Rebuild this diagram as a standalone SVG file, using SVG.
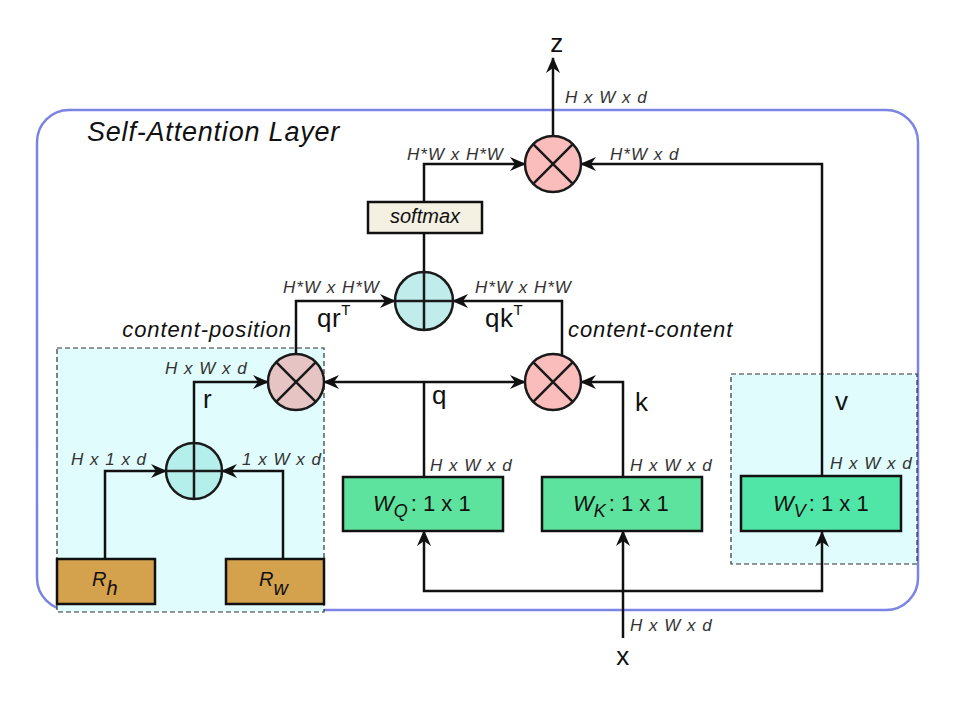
<svg xmlns="http://www.w3.org/2000/svg" width="962" height="707" viewBox="0 0 962 707">
<style>
.ln{fill:none;stroke:#111;stroke-width:2.5}
.lbl{font-family:"Liberation Sans",Arial,sans-serif;font-style:italic;font-size:17px;fill:#333;letter-spacing:1px}
.big{font-family:"Liberation Sans",Arial,sans-serif;font-size:26px;fill:#111;letter-spacing:0.5px}
.it{font-family:"Liberation Sans",Arial,sans-serif;font-style:italic;fill:#111}
.circ{stroke:#1a1a1a;stroke-width:2.5}
.sym{stroke:#1a1a1a;stroke-width:2.5}
.box{stroke:#111;stroke-width:2.5}
.dash{fill:#e0fcfc;stroke:#333;stroke-width:1.2;stroke-dasharray:5,3}
.wt{font-family:"Liberation Sans",Arial,sans-serif;font-size:22px;fill:#111}
</style>
<defs>
<marker id="ah" viewBox="0 0 16 14" refX="15" refY="7" markerWidth="16" markerHeight="14" markerUnits="userSpaceOnUse" orient="auto"><path d="M16,7 L0,0 L5,7 L0,14 z" fill="#111"/></marker>
</defs>
<rect width="962" height="707" fill="#fff"/>
<g id="layer">
<rect x="37" y="110" width="881" height="500" rx="32" fill="none" stroke="#7b83e4" stroke-width="2.5"/>
<text x="87" y="141" class="it" font-size="27" letter-spacing="0.8">Self-Attention Layer</text>
</g>
<g id="pos-region"><rect class="dash" x="57" y="348" width="267" height="264"/></g>
<g id="v-region"><rect class="dash" x="731" y="374" width="186" height="190"/></g>

<g id="connectors">
<path class="ln" d="M553,136 V58" marker-end="url(#ah)"/>
<path class="ln" d="M424,202 V164 H525" marker-end="url(#ah)"/>
<path class="ln" d="M822,476 V164 H581" marker-end="url(#ah)"/>
<path class="ln" d="M424,232 V272"/>
<path class="ln" d="M296,354 V301 H395" marker-end="url(#ah)"/>
<path class="ln" d="M562,357 V301 H453" marker-end="url(#ah)"/>
<path class="ln" d="M424,477 V382"/>
<path class="ln" d="M424,382 H324" marker-end="url(#ah)"/>
<path class="ln" d="M424,382 H525" marker-end="url(#ah)"/>
<path class="ln" d="M623,477 V382 H581" marker-end="url(#ah)"/>
<path class="ln" d="M194,443 V382 H268" marker-end="url(#ah)"/>
<path class="ln" d="M105,559 V471 H166" marker-end="url(#ah)"/>
<path class="ln" d="M283,559 V471 H222" marker-end="url(#ah)"/>
<path class="ln" d="M623,638 V531" marker-end="url(#ah)"/>
<path class="ln" d="M623,591 H424 V531" marker-end="url(#ah)"/>
<path class="ln" d="M623,591 H822 V532" marker-end="url(#ah)"/>
</g>

<g id="labels">
<text class="lbl" x="565" y="103">H x W x d</text>
<text class="lbl" x="407" y="160">H*W x H*W</text>
<text class="lbl" x="610" y="160">H*W x d</text>
<text class="lbl" x="283" y="293">H*W x H*W</text>
<text class="lbl" x="475" y="293">H*W x H*W</text>
<text class="lbl" x="165" y="374">H x W x d</text>
<text class="lbl" x="71" y="465">H x 1 x d</text>
<text class="lbl" x="242" y="465">1 x W x d</text>
<text class="lbl" x="430" y="471">H x W x d</text>
<text class="lbl" x="630" y="471">H x W x d</text>
<text class="lbl" x="830" y="469">H x W x d</text>
<text class="lbl" x="630" y="631">H x W x d</text>
<text class="big" x="557" y="52" text-anchor="middle">z</text>
<text class="big" x="623" y="665" text-anchor="middle">x</text>
<text class="big" x="432" y="404">q</text>
<text class="big" x="635" y="411">k</text>
<text class="big" x="835" y="410">v</text>
<text class="big" x="203" y="408">r</text>
<text class="big" x="317" y="327">qr<tspan font-size="15" dy="-12">T</tspan></text>
<text class="big" x="485" y="327">qk<tspan font-size="15" dy="-12">T</tspan></text>
<text class="it" x="292" y="337" font-size="22" letter-spacing="0.9" text-anchor="end">content-position</text>
<text class="it" x="568" y="337" font-size="22" letter-spacing="0.9">content-content</text>
</g>

<g id="softmax">
<rect class="box" x="368" y="202" width="114" height="31" fill="#f4f0e2"/>
<text class="it" x="425" y="223" font-size="20" text-anchor="middle" fill="#222">softmax</text>
</g>

<g id="mul-out">
<circle class="circ" cx="553" cy="164" r="28" fill="#fbbcbc"/>
<path class="sym" d="M533.2,144.2 L572.8,183.8 M572.8,144.2 L533.2,183.8"/>
</g>
<g id="add-logits">
<circle class="circ" cx="424" cy="301" r="29" fill="#c0ecec"/>
<path class="sym" d="M424,272 V330 M395,301 H453"/>
</g>
<g id="mul-content-content">
<circle class="circ" cx="553" cy="382" r="28" fill="#fbbcbc"/>
<path class="sym" d="M533.2,362.2 L572.8,401.8 M572.8,362.2 L533.2,401.8"/>
</g>
<g id="mul-content-position">
<circle class="circ" cx="296" cy="382" r="28" fill="#e6c4c4"/>
<path class="sym" d="M276.2,362.2 L315.8,401.8 M315.8,362.2 L276.2,401.8"/>
</g>
<g id="add-pos">
<circle class="circ" cx="194" cy="471" r="28" fill="#b5efec"/>
<path class="sym" d="M194,443 V499 M166,471 H222"/>
</g>

<g id="wq">
<rect class="box" x="343" y="477" width="160" height="54" fill="#5de39d"/>
<text class="wt" x="373" y="511"><tspan font-style="italic">W</tspan><tspan font-style="italic" font-size="18" dy="6">Q</tspan><tspan dy="-6" dx="3">: 1 x 1</tspan></text>
</g>
<g id="wk">
<rect class="box" x="542" y="477" width="160" height="54" fill="#5de39d"/>
<text class="wt" x="573" y="511"><tspan font-style="italic">W</tspan><tspan font-style="italic" font-size="18" dy="6">K</tspan><tspan dy="-6" dx="3">: 1 x 1</tspan></text>
</g>
<g id="wv">
<rect class="box" x="741" y="476" width="160" height="55" fill="#50e6a8"/>
<text class="wt" x="773" y="511"><tspan font-style="italic">W</tspan><tspan font-style="italic" font-size="18" dy="6">V</tspan><tspan dy="-6" dx="3">: 1 x 1</tspan></text>
</g>
<g id="rh">
<rect class="box" x="57" y="559" width="98" height="45" fill="#d4a14c"/>
<text class="it" x="92" y="586" font-size="20">R<tspan font-size="20" dy="9">h</tspan></text>
</g>
<g id="rw">
<rect class="box" x="226" y="559" width="98" height="45" fill="#d4a14c"/>
<text class="it" x="259" y="586" font-size="20">R<tspan font-size="20" dy="9">w</tspan></text>
</g>
</svg>
